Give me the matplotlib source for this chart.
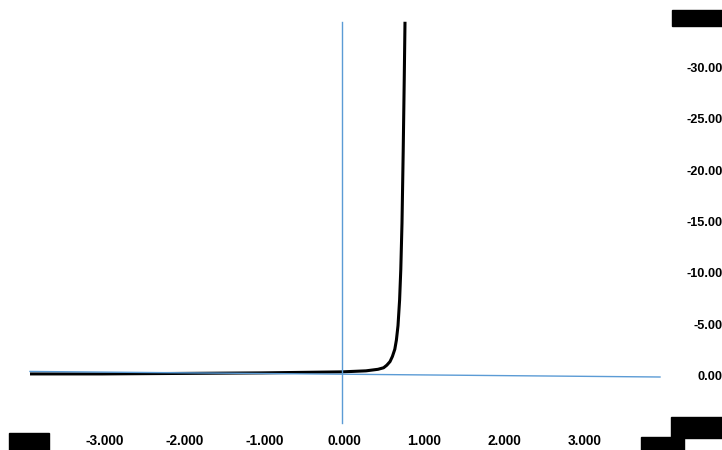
import matplotlib
matplotlib.use("Agg")
import matplotlib.pyplot as plt

# diode-like sweep (x: volts, y: current, axis drawn negative upward)
volts = [-3.9, -3.0, -2.0, -1.0, 0.0, 0.3, 0.45, 0.52, 0.56, 0.6, 0.63, 0.66, 0.68, 0.70,
         0.72, 0.735, 0.75, 0.765, 0.778, 0.7875]
current = [-0.3, -0.3, -0.35, -0.4, -0.5, -0.6, -0.75, -0.9, -1.15, -1.5, -2.0, -2.7, -3.6, -5.0,
           -7.5, -10.5, -15.0, -22.0, -29.0, -34.6]

x_ticks = [-3, -2, -1, 0, 1, 2, 3]
x_labels = ["-3.000", "-2.000", "-1.000", "0.000", "1.000", "2.000", "3.000"]
y_ticks = [-30, -25, -20, -15, -10, -5, 0]
y_labels = ["-30.00", "-25.00", "-20.00", "-15.00", "-10.00", "-5.00", "0.00"]

axis_blue = "#5b9bd5"
fam = ["Liberation Sans", "DejaVu Sans"]

fig = plt.figure(figsize=(7.22, 4.5), dpi=100)
ax = fig.add_axes([0, 0, 1, 1])
ax.set_xlim(-4.275, 4.75)
ax.set_ylim(7.11, -36.72)
ax.axis("off")

# axis lines
ax.plot([-3.9, 3.975], [-0.54, 0.0], color=axis_blue, lw=1.0, zorder=3)
ax.plot([0, 0], [-34.6, 4.5], color=axis_blue, lw=1.0, zorder=3)

# curve
ax.plot(volts, current, color="black", lw=2.2, solid_capstyle="butt", zorder=2)

# tick labels
for t, s in zip(x_ticks, x_labels):
    ax.text(t + 0.03, 6.2, s, ha="center", va="center", fontsize=9.8, fontweight="bold",
            family=fam, color="black")
for t, s in zip(y_ticks, y_labels):
    ax.text(4.76, t, s, ha="right", va="center", fontsize=9.2, fontweight="bold",
            family=fam, color="black")

# end labels that are blacked out in the original
kw = dict(ha="center", va="center", fontsize=8.5, fontweight="bold", family=fam, color="black")
ax.text(-3.91, 6.4, "-4.000", bbox=dict(facecolor="black", edgecolor="black", pad=2.5), **kw)
ax.text(4.01, 6.8, " 4.000 ", bbox=dict(facecolor="black", edgecolor="black", pad=2.5), **kw)
ax.text(4.44, -35.0, "  -35.00  ", bbox=dict(facecolor="black", edgecolor="black", pad=1.5), **kw)
ax.text(4.44, 4.92, "   5.00   ", bbox=dict(facecolor="black", edgecolor="black", pad=3.5), **kw)

fig.savefig("out.png", dpi=100)
